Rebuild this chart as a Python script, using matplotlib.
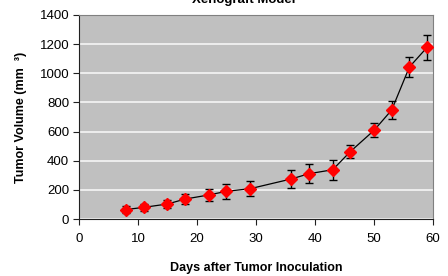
import matplotlib
matplotlib.use("Agg")
import matplotlib.pyplot as plt

# days after inoculation and mean tumour volume (mm^3) with error
days = [8, 11, 15, 18, 22, 25, 29, 36, 39, 43, 46, 50, 53, 56, 59]
volume = [65, 80, 103, 137, 165, 190, 208, 275, 311, 338, 463, 608, 748, 1043, 1178]
err = [25, 25, 30, 35, 40, 50, 52, 60, 64, 68, 46, 48, 60, 68, 87]

plt.rcParams['font.family'] = ['Liberation Sans', 'DejaVu Sans']

fig = plt.figure(figsize=(4.48, 2.76), dpi=100)
ax = fig.add_axes([0.1763, 0.2065, 0.7902, 0.7392])
ax.set_facecolor('#c0c0c0')

ax.errorbar(days, volume, yerr=err, color='black', linewidth=0.9,
            ecolor='black', elinewidth=1.0, capsize=3, capthick=1.0,
            marker='D', markersize=6, markerfacecolor='#ff0000',
            markeredgecolor='#ff0000', zorder=3)

ax.set_xlim(0, 60)
ax.set_ylim(0, 1400)
ax.set_xticks(range(0, 61, 10))
ax.set_yticks(range(0, 1401, 200))
ax.yaxis.grid(True, color='#eeeeee', linewidth=1.4)
ax.set_axisbelow(True)

for s in ['top', 'right']:
    ax.spines[s].set_color('#808080')
for s in ['left', 'bottom']:
    ax.spines[s].set_color('#202020')
ax.tick_params(direction='out', length=4, width=0.8, labelsize=9.5,
               color='#202020', pad=3)
ax.tick_params(axis='x', pad=6)

ax.set_xlabel('Days after Tumor Inoculation', fontsize=9, fontweight='bold',
              labelpad=12)
ax.set_ylabel('Tumor Volume (mm  \u00b3)', fontsize=9, fontweight='bold',
              labelpad=9)
# title sits mostly above the top edge, as in the original
fig.text(0.545, 1 - 3 / 276, 'Xenograft Model', fontsize=9.5,
         fontweight='bold', ha='center', va='baseline')

fig.savefig('out.png', dpi=100)
